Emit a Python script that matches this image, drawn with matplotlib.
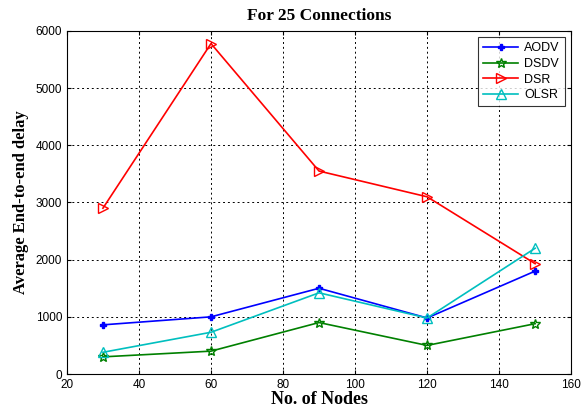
import matplotlib
matplotlib.use('Agg')
import matplotlib.pyplot as plt

nodes = [30, 60, 90, 120, 150]
aodv = [860, 1000, 1500, 980, 1800]
dsdv = [300, 400, 900, 500, 880]
dsr = [2900, 5780, 3550, 3100, 1930]
olsr = [380, 730, 1420, 980, 2200]

plt.rcParams['font.family'] = ['Liberation Sans', 'DejaVu Sans']

fig = plt.figure(figsize=(5.87, 4.11), dpi=100)
ax = fig.add_axes([0.114, 0.090, 0.859, 0.8346])

ax.plot(nodes, aodv, color='#0000ff', marker='P', markersize=5, lw=1.2, label='AODV')
ax.plot(nodes, dsdv, color='#008000', marker='*', markersize=7, mfc='none', lw=1.2, label='DSDV')
ax.plot(nodes, dsr, color='#ff0000', marker='>', markersize=7, mfc='none', lw=1.2, label='DSR')
ax.plot(nodes, olsr, color='#00bfbf', marker='^', markersize=7, mfc='none', lw=1.2, label='OLSR')

ax.set_xlim(20, 160)
ax.set_ylim(0, 6000)
ax.set_xticks(range(20, 161, 20))
ax.set_yticks(range(0, 6001, 1000))
ax.grid(True, color='k', linestyle=(0, (2, 3)), linewidth=0.7)
ax.tick_params(labelsize=8.5, direction='in', length=3, top=True, right=True)
for s in ax.spines.values():
    s.set_linewidth(0.8)

serif = {'family': 'Liberation Serif', 'weight': 'bold'}
ax.set_title('For 25 Connections', fontdict=serif, fontsize=12.5, pad=8)
ax.set_xlabel('No. of Nodes', fontdict=serif, fontsize=13, labelpad=0)
ax.set_ylabel('Average End-to-end delay', fontdict=serif, fontsize=12, labelpad=5)

leg = ax.legend(loc='upper right', fancybox=False, edgecolor='k', fontsize=9,
                handlelength=2.8, handletextpad=0.5, borderaxespad=0.5, labelspacing=0.3)
leg.get_frame().set_linewidth(0.8)

plt.savefig('out.png', dpi=100)
